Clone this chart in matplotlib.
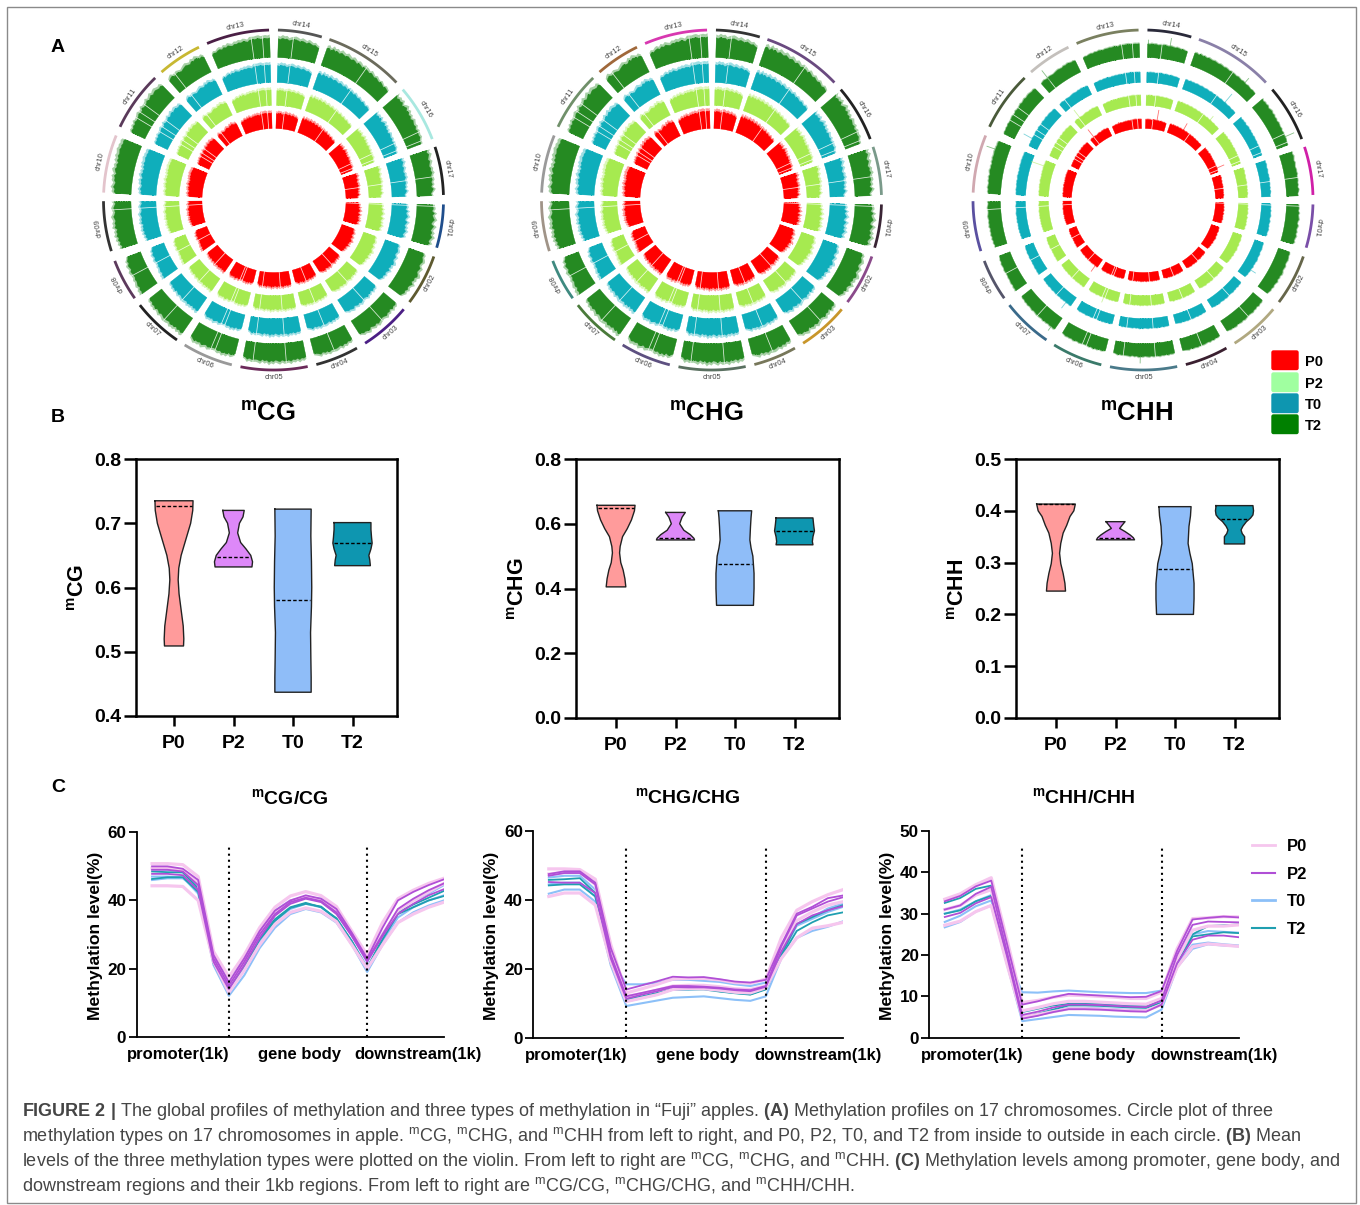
import numpy as np
import matplotlib
matplotlib.use('Agg')
import matplotlib.pyplot as plt
from matplotlib.patches import FancyBboxPatch, Rectangle
from matplotlib.lines import Line2D

plt.rcParams['font.family'] = ['Liberation Sans', 'DejaVu Sans']
plt.rcParams['mathtext.fontset'] = 'custom'
plt.rcParams['mathtext.rm'] = 'Liberation Sans'
plt.rcParams['mathtext.bf'] = 'Liberation Sans:bold'
plt.rcParams['mathtext.it'] = 'Liberation Sans:italic'

W, H = 1360, 1205
groups = ['P0', 'P2', 'T0', 'T2']

# ---- circos: chromosomes, arc ends in degrees clockwise from east
chroms = ['chr%02d' % i for i in range(1, 18)]
chr_start = [1.5, 19.4, 40, 60.6, 78.4, 104.2, 124.6, 144.7, 162.5, 182.5, 205.5, 228.8, 247, 271.5, 289.2, 319.5, 341.8]
chr_end = [16.3, 36.9, 57.4, 75.4, 101.2, 121.5, 141.8, 159, 179.6, 202.3, 225.9, 244, 268.5, 286.5, 316.3, 339, 358.3]
label_inward = [0, 1, 1, 1, 1, 1, 1, 0, 0, 0, 0, 0, 0, 0, 0, 0, 0]

# methylation along each chromosome, percent of track depth, 0 = unassembled gap
chr_profiles = [
    [62, 0, 70, 58, 82, 66, 75, 88, 72, 64, 90, 78, 69, 85, 74, 93, 80, 71, 86, 60],
    [55, 68, 62, 74, 80, 70, 66, 85, 78, 72, 88, 94, 76, 83, 70, 90, 74, 68, 79, 64, 72, 60, 52],
    [58, 72, 66, 80, 62, 76, 70, 84, 74, 68, 0, 78, 86, 72, 82, 75, 66, 84, 78, 70, 74, 62, 56],
    [60, 72, 64, 78, 70, 82, 68, 76, 80, 0, 74, 84, 72, 78, 66, 80, 70, 62, 56],
    [66, 78, 72, 84, 70, 80, 74, 88, 76, 0, 82, 72, 86, 78, 70, 84, 76, 90, 72, 80, 68, 84, 76, 72, 0, 78, 70, 82, 64, 58],
    [56, 68, 76, 64, 80, 72, 84, 70, 78, 0, 66, 0, 74, 82, 70, 78, 88, 72, 80, 76, 84, 70, 60],
    [82, 90, 76, 86, 72, 84, 78, 88, 74, 80, 0, 84, 76, 70, 82, 72, 66, 78, 68, 74, 60, 66, 54],
    [88, 78, 84, 70, 80, 74, 66, 72, 62, 0, 68, 74, 60, 66, 72, 56, 64, 50, 44],
    [70, 58, 74, 64, 80, 68, 84, 72, 78, 66, 86, 74, 80, 70, 76, 84, 72, 66, 0, 78, 70, 60, 74],
    [62, 76, 70, 84, 74, 68, 82, 78, 88, 72, 84, 92, 78, 86, 74, 90, 82, 94, 86, 90, 96, 88, 92, 84, 90, 82],
    [48, 60, 54, 66, 58, 72, 62, 0, 70, 78, 0, 66, 84, 72, 0, 76, 88, 74, 82, 92, 78, 86, 90, 82, 76, 84, 70],
    [60, 72, 80, 66, 0, 74, 68, 62, 70, 78, 84, 76, 72, 88, 80, 92, 84, 74, 82, 68],
    [52, 66, 60, 72, 78, 68, 82, 74, 86, 78, 72, 84, 80, 88, 82, 90, 86, 78, 94, 0, 92, 96, 98, 90, 0, 96, 92, 98],
    [90, 84, 96, 88, 92, 78, 86, 0, 94, 88, 80, 90, 84, 76, 88, 80, 72, 78, 66, 60],
    [84, 92, 74, 96, 82, 90, 78, 94, 86, 80, 92, 84, 76, 88, 82, 72, 84, 78, 68, 80, 0, 72, 64, 76, 68, 60, 70, 62, 56, 66, 58, 50, 60, 54, 48],
    [92, 70, 84, 76, 88, 66, 80, 90, 72, 84, 68, 76, 62, 78, 70, 64, 72, 58, 68, 0, 60, 66, 54, 0, 50],
    [84, 72, 88, 76, 66, 80, 70, 62, 74, 68, 78, 64, 0, 70, 58, 66, 52, 72, 60, 46, 54],
]

ring_cg = ['#1f4e8c', '#5e5a30', '#4b1f85', '#333333', '#6b2a5a', '#999999', '#222222', '#5c3a5c', '#333333',
           '#e3c4cc', '#5a3a5a', '#c8b832', '#4a1f45', '#555555', '#6b6b5c', '#a8e8e0', '#222222']
ring_chg = ['#3a2535', '#8a4a8a', '#c8962a', '#77775a', '#5a7060', '#5d5080', '#4a7a3a', '#3f8a80', '#a09488',
            '#9a9a9a', '#70906a', '#a0683a', '#d838b0', '#333333', '#6a4a80', '#222222', '#7a9a8a']
ring_chh = ['#7a4fa8', '#66664a', '#b0a880', '#3a2030', '#4a7a8a', '#3a7a6a', '#3a6a8a', '#55556a', '#5a50a0',
            '#d0a8b0', '#4a5a3a', '#c4c0bc', '#7a8060', '#2a2a3a', '#8a80a8', '#222222', '#d020a8']
ring_colors = [ring_cg, ring_chg, ring_chh]

circle_cx = [273.5, 711.5, 1143]
track_colors = ['#ff0000', '#a6ea50', '#0faebb', '#258a22']
track_base = [72, 95, 118, 143]
# floor and amount of the profile, px, one row per circle
track_floor = [[7, 7, 8, 9], [8, 7, 8, 9], [6, 7, 7, 9]]
track_amp = [[9, 9, 10, 11], [10, 10, 11, 12], [3.5, 3.5, 3.5, 5]]
# the single high windows in the mCHH circle: angle, radius
spikes_p0 = [(280, 91), (232, 89), (300, 88), (336.6, 88), (126, 88)]
spikes_p2 = [(232.5, 113), (199, 118), (112, 110), (310, 109)]
spikes_t0 = [(310, 138), (33, 134), (209, 136), (127, 135)]
spikes_t2 = [(272, 160), (280, 164), (311, 161), (336, 165), (199, 165), (232, 164), (126, 161), (91, 163)]
spikes_all = [spikes_p0, spikes_p2, spikes_t0, spikes_t2]

square_colors = ['#ff0000', '#a0ffa0', '#0e96b0', '#008000']

# ---- violins: y values and half widths
cg_p0_y = [.735, .72, .70, .675, .65, .63, .612, .59, .565, .54, .52, .509]
cg_p0_w = [.32, .315, .28, .20, .12, .08, .07, .085, .12, .155, .165, .16]
cg_p2_y = [.72, .71, .70, .685, .67, .66, .65, .64, .632]
cg_p2_w = [.18, .16, .10, .07, .12, .21, .29, .32, .31]
cg_t0_y = [.722, .68, .64, .60, .57, .53, .49, .46, .437]
cg_t0_w = [.305, .30, .31, .315, .31, .295, .30, .305, .305]
cg_t2_y = [.701, .69, .678, .669, .66, .65, .643, .634]
cg_t2_w = [.31, .31, .32, .33, .31, .275, .29, .30]
cg_medians = [.727, .647, .58, .669]

chg_p0_y = [.657, .64, .612, .585, .56, .53, .51, .48, .457, .43, .405]
chg_p0_w = [.32, .31, .26, .19, .11, .07, .06, .08, .12, .15, .165]
chg_p2_y = [.635, .62, .60, .58, .566, .555, .55]
chg_p2_w = [.165, .11, .07, .14, .25, .31, .32]
chg_t0_y = [.64, .62, .59, .55, .525, .50, .447, .40, .348]
chg_t0_w = [.28, .27, .26, .25, .27, .30, .32, .32, .31]
chg_t2_y = [.618, .60, .592, .578, .56, .545, .535]
chg_t2_w = [.31, .32, .325, .335, .31, .30, .31]
chg_medians = [.648, .557, .476, .578]

chh_p0_y = [.413, .40, .389, .372, .357, .337, .318, .298, .279, .26, .245]
chh_p0_w = [.325, .30, .235, .18, .12, .08, .06, .08, .12, .15, .16]
chh_p2_y = [.379, .372, .366, .36, .353, .348, .344]
chh_p2_w = [.16, .11, .07, .16, .25, .30, .32]
chh_t0_y = [.408, .39, .37, .337, .318, .298, .26, .23, .20]
chh_t0_w = [.27, .26, .235, .22, .25, .29, .32, .32, .31]
chh_t2_y = [.41, .40, .392, .386, .379, .37, .363, .356, .35, .336]
chh_t2_w = [.31, .32, .31, .27, .20, .14, .11, .13, .17, .17]
chh_medians = [.413, .347, .287, .384]

violin_colors = ['#ff9b9b', '#dd88f8', '#8fbdf8', '#0e96b0']
violin_y = [[cg_p0_y, cg_p2_y, cg_t0_y, cg_t2_y], [chg_p0_y, chg_p2_y, chg_t0_y, chg_t2_y], [chh_p0_y, chh_p2_y, chh_t0_y, chh_t2_y]]
violin_w = [[cg_p0_w, cg_p2_w, cg_t0_w, cg_t2_w], [chg_p0_w, chg_p2_w, chg_t0_w, chg_t2_w], [chh_p0_w, chh_p2_w, chh_t0_w, chh_t2_w]]
violin_medians = [cg_medians, chg_medians, chh_medians]
violin_yticks = [[0.4, 0.5, 0.6, 0.7, 0.8], [0.0, 0.2, 0.4, 0.6, 0.8], [0.0, 0.1, 0.2, 0.3, 0.4, 0.5]]

# ---- metaplots, 20 bins, three replicates per group (two for T2)
cg_p0 = [[50.8, 50.8, 50.5, 47, 25, 17.5, 24, 32, 38, 41.3, 42.6, 41.4, 38.2, 31, 24, 33.5, 40.5, 43, 45, 46.5],
         [49.5, 49.5, 49.0, 45, 23, 15.5, 22, 30, 36.5, 39.8, 41, 40, 37, 30, 22.5, 30, 37, 40, 42.5, 45],
         [44.3, 44.3, 44.1, 40, 22, 13, 19.5, 27, 33, 36.5, 37.8, 36.8, 33.8, 27, 20, 27, 33.5, 36, 38, 39.5]]
cg_p2 = [[50, 50, 49.3, 46, 24, 16, 23, 31, 37, 40, 41.5, 40.5, 37.5, 30.5, 23, 32, 40, 42.5, 44.5, 46.2],
         [47.8, 47.8, 47.4, 43, 22, 14, 21, 29, 35.5, 39, 40.5, 39.5, 36, 29.5, 22, 29.5, 36, 39, 41.5, 43.3],
         [49, 49, 48.5, 44.5, 23, 15, 22, 30, 36, 39.5, 40.8, 39.8, 36.5, 30, 22.5, 30, 37.5, 40.5, 43, 45]]
cg_t0 = [[49.2, 49, 48.5, 44, 22.5, 17.5, 23, 31, 37, 40, 41, 40.5, 37, 30, 22, 30, 37, 40, 42, 44.5],
         [47, 47, 46.8, 42, 21, 12, 18, 26, 32, 36, 37.5, 36.5, 33.5, 27, 19, 27, 33.5, 36.5, 38.5, 40],
         [46, 46.5, 46.5, 43, 22, 13.5, 20, 28, 34, 37.5, 39, 38, 34.5, 28, 20.5, 28, 35, 38, 40, 41.5]]
cg_t2 = [[48.5, 48.3, 48.2, 43.5, 22, 14, 21, 29, 34.5, 38, 39.3, 38, 34.8, 28, 20, 29, 36.5, 38.8, 40.8, 42.8],
         [46.3, 46.8, 46.8, 42.5, 21.5, 13, 20, 28.5, 34, 37.8, 39, 38.2, 34.5, 28, 20, 28.5, 36, 38, 40, 41.3]]

chg_p0 = [[49, 49, 48.8, 46, 27, 13, 14.2, 15.5, 17, 17.2, 17.2, 16.8, 16, 15.8, 17, 29, 37, 39.5, 41.5, 43],
          [47.5, 48, 48, 44.5, 25, 12, 12.8, 13.8, 15, 15.2, 15.2, 14.8, 14.2, 14, 15, 26, 34, 36.5, 38.5, 39.5],
          [41, 42, 42, 38.5, 22, 10.5, 11.5, 12.5, 14, 14.3, 14.2, 13.8, 13.2, 13, 14.5, 23, 29, 31.8, 32.5, 33.5]]
chg_p2 = [[47.5, 48.3, 48.3, 45, 26, 14, 15.2, 16.4, 17.7, 17.5, 17.6, 17, 16.3, 16, 16.8, 27, 36, 38, 40.5, 41.3],
          [45.2, 45, 45, 42, 23, 11.3, 12.5, 13.5, 14.7, 14.6, 14.6, 14.3, 13.8, 13.5, 14.8, 25, 33, 35.5, 37, 38.2],
          [47, 47.8, 47.8, 44.5, 24, 12, 13, 14, 15, 15, 14.8, 14.5, 14, 13.8, 15, 26.5, 35.5, 37.5, 39.5, 40.8]]
chg_t0 = [[46.5, 47, 47, 43, 23, 15.5, 15.5, 16, 16.8, 16.8, 16.5, 16.2, 15.5, 15, 16, 25, 33, 35, 37.5, 39],
          [41.8, 43, 43, 39.5, 21, 9.2, 10, 10.8, 11.6, 11.8, 12, 11.5, 11, 10.7, 12, 23, 29, 31, 32.2, 33.8],
          [44.5, 45, 45, 41, 22, 10.5, 11.5, 12.5, 14, 14, 14.2, 13.8, 13.2, 13, 14.5, 24, 32.5, 34.5, 36.5, 38]]
chg_t2 = [[45.8, 46, 46.3, 42, 22, 11, 12, 13, 14, 14.2, 14.3, 13.5, 13, 12.6, 14.2, 24, 33, 35, 37, 38.5],
          [44.2, 44.5, 44.5, 41, 21.5, 10.8, 11.8, 12.8, 13.9, 14, 14, 13.4, 12.9, 12.5, 14, 23.5, 31, 33.5, 35.5, 36.4]]

chh_p0 = [[33.5, 34.8, 37, 38.7, 24, 8.5, 9, 9.8, 10.3, 10.2, 10, 9.8, 9.5, 9.5, 11, 21.5, 28.8, 29, 29.3, 29.2],
          [31, 32, 34.5, 35.8, 21, 6.5, 7.3, 8.2, 8.8, 8.8, 8.6, 8.4, 8.2, 8.1, 9.5, 19, 26, 27, 27, 27.3],
          [27.2, 28.2, 30.5, 32, 18, 5, 5.6, 6.3, 7, 7, 6.9, 6.7, 6.5, 6.5, 8, 17, 22, 22.7, 22.4, 22.1]]
chh_p2 = [[33, 34.3, 36.6, 38, 23, 8, 8.8, 9.8, 10.6, 10.4, 10.2, 10, 9.8, 9.9, 11.3, 21, 28.6, 29, 29.3, 29.1],
          [29.2, 30.2, 32.5, 34, 20, 4.6, 5.3, 6.2, 6.9, 6.9, 6.8, 6.6, 6.4, 6.3, 8, 18, 23.7, 24.7, 24.7, 24.3],
          [31, 32, 34.8, 36.5, 21, 5.5, 6.3, 7.3, 8, 8, 7.9, 7.7, 7.5, 7.4, 9, 20, 27.3, 28.1, 28, 27.9]]
chh_t0 = [[30, 31, 33, 34.5, 20, 11, 10.9, 11.2, 11.4, 11.2, 11, 10.9, 10.8, 10.8, 11.4, 19, 25, 25.8, 25.6, 25.4],
          [26.7, 28, 30.5, 32, 18, 4, 4.5, 5, 5.5, 5.4, 5.3, 5.1, 5, 4.9, 6.8, 17, 21.5, 22.6, 22.3, 22.1],
          [28, 29.5, 31.8, 33.2, 19, 4.8, 5.4, 6.4, 7.2, 7.2, 7.1, 6.9, 6.7, 6.6, 8, 17.5, 22.5, 23, 22.6, 22.3]]
chh_t2 = [[32.6, 33.8, 36, 36.8, 22, 6.2, 7, 7.8, 8.2, 8.2, 8.2, 8, 7.8, 7.7, 9.2, 19.5, 25, 27, 27.2, 27.4],
          [30, 30.8, 33, 34.3, 20, 5, 5.8, 6.8, 7.8, 7.8, 7.7, 7.5, 7.3, 7.2, 8.5, 18, 24.5, 25, 25.5, 25.3]]

meta_lines = [[cg_t0, cg_t2, cg_p0, cg_p2], [chg_t0, chg_t2, chg_p0, chg_p2], [chh_t0, chh_t2, chh_p0, chh_p2]]
meta_colors = ['#8cc0f8', '#1f9fb0', '#f6c6ee', '#b04fd6']
meta_widths = [1.5, 1.3, 2.3, 1.3]
meta_yticks = [[0, 20, 40, 60], [0, 20, 40, 60], [0, 10, 20, 30, 40, 50]]
meta_xlabels = ['promoter(1k)', 'gene body', 'downstream(1k)']
meta_xlabel_pos = [[1.7, 9.6, 17.3], [1.8, 9.6, 17.4], [1.8, 9.6, 17.4]]

caption = [
    r'$\mathbf{FIGURE\ 2\ |}$ The global profiles of methylation and three types of methylation in “Fuji” apples. $\mathbf{(A)}$ Methylation profiles on 17 chromosomes. Circle plot of three',
    r'methylation types on 17 chromosomes in apple. $^{\mathrm{m}}$CG, $^{\mathrm{m}}$CHG, and $^{\mathrm{m}}$CHH from left to right, and P0, P2, T0, and T2 from inside to outside in each circle. $\mathbf{(B)}$ Mean',
    r'levels of the three methylation types were plotted on the violin. From left to right are $^{\mathrm{m}}$CG, $^{\mathrm{m}}$CHG, and $^{\mathrm{m}}$CHH. $\mathbf{(C)}$ Methylation levels among promoter, gene body, and',
    r'downstream regions and their 1kb regions. From left to right are $^{\mathrm{m}}$CG/CG, $^{\mathrm{m}}$CHG/CHG, and $^{\mathrm{m}}$CHH/CHH.',
]

fig = plt.figure(figsize=(W / 100, H / 100), dpi=100)


def px_axes(left, top, right, bottom, **kw):
    return fig.add_axes([left / W, 1 - bottom / H, (right - left) / W, (bottom - top) / H], **kw)


# overlay in pixel coordinates for the frame and the free text
page = px_axes(0, 0, W, H)
page.set_xlim(0, W)
page.set_ylim(H, 0)
page.axis('off')
page.add_patch(Rectangle((7, 7), 1349, 1196, fill=False, ec='#8a8a8a', lw=1))
for letter, y in zip('ABC', [47, 417, 788]):
    page.text(58, y, letter, fontsize=14, fontweight='bold', ha='center', va='center')
for name, x in zip(['CG', 'CHG', 'CHH'], [268, 706, 1137]):
    page.text(x, 414, r'$^{\mathbf{m}}$' + name, fontsize=18.5, fontweight='bold', ha='center', va='center')
for name, x, y in zip(['CG', 'CHG', 'CHH'], [79, 519, 959], [587, 589, 589]):
    page.text(x, y, r'$^{\mathbf{m}}$' + name, fontsize=15.5, fontweight='bold', rotation=90, ha='center', va='center')
for name, x, y in zip(['CG/CG', 'CHG/CHG', 'CHH/CHH'], [290, 688, 1084], [798, 797, 797]):
    page.text(x, y, r'$^{\mathbf{m}}$' + name, fontsize=14, fontweight='bold', ha='center', va='center')
for x in [95.5, 491.5, 887.5]:
    page.text(x, 936, 'Methylation level(%)', fontsize=12.6, fontweight='bold', rotation=90, ha='center', va='center')
for line, y in zip(caption, [1111, 1136, 1161, 1186]):
    page.text(22, y, line, fontsize=12.95, color='#454545', ha='left', va='center')

# square legend of the circos rings
for i, (name, top) in enumerate(zip(groups, [350, 372, 393, 414])):
    page.add_patch(FancyBboxPatch((1272, top + 1), 26, 18.5, boxstyle='round,pad=0,rounding_size=1.5',
                                  fc=square_colors[i], ec=square_colors[i], lw=1))
    page.text(1305, top + 12, name, fontsize=10.5, fontweight='bold', ha='left', va='center')

# ---- A: circos rings
R = 190
for c, cx in enumerate(circle_cx):
    ax = px_axes(cx - R, 200 - R, cx + R, 200 + R, projection='polar')
    ax.set_theta_direction(-1)
    ax.set_theta_offset(0)
    ax.set_rlim(0, R)
    ax.axis('off')
    for i, name in enumerate(chroms):
        theta = np.radians(np.linspace(chr_start[i], chr_end[i], len(chr_profiles[i])))
        prof = np.array(chr_profiles[i], dtype=float)
        keep = prof > 0
        for t in range(4):
            base = track_base[t]
            top = base + track_floor[c][t] + track_amp[c][t] * prof[keep] / 100
            fringe = base + track_floor[c][t] + 1.3 * track_amp[c][t] * prof[keep] / 100
            # thin pale tips above the solid body, as the windows fade out
            ax.fill_between(theta[keep], base, fringe, color=track_colors[t], lw=0, alpha=0.4)
            ax.fill_between(theta[keep], base, top, color=track_colors[t], lw=0.2)
            for g in theta[~keep]:
                ax.plot([g, g], [base - 1, top.max() + 1], color='white', lw=0.55, alpha=0.85)
        arc = np.radians(np.linspace(chr_start[i], chr_end[i], 40))
        ax.plot(arc, np.full(40, 170), color=ring_colors[c][i], lw=2, solid_capstyle='butt')
        mid = (chr_start[i] + chr_end[i]) / 2
        rot = 90 - mid if label_inward[i] else -mid - 90
        ax.text(np.radians(mid), 177, name, fontsize=5.4, color='#444444', rotation=rot,
                rotation_mode='anchor', ha='center', va='center')
    if c == 2:
        for t in range(4):
            for ang, r in spikes_all[t]:
                ax.plot(np.radians([ang, ang]), [track_base[t] + 8, r], color=track_colors[t], lw=0.6, alpha=0.55)

# ---- B: violins
violin_boxes = [(136, 459, 397, 716), (576, 459, 839, 718), (1016, 459, 1279, 718)]
violin_left = [174, 616, 1056]
violin_step = 59.5
for p, box in enumerate(violin_boxes):
    ax = px_axes(*box)
    for i in range(4):
        ys = np.array(violin_y[p][i])
        ws = np.array(violin_w[p][i])
        ax.fill_betweenx(ys, i - ws, i + ws, facecolor=violin_colors[i], edgecolor='none', zorder=2)
        ax.plot(np.r_[i - ws, (i + ws)[::-1], (i - ws)[0]], np.r_[ys, ys[::-1], ys[0]], color='#222222', lw=1.0, zorder=3)
        med = violin_medians[p][i]
        hw = np.interp(med, ys[::-1], ws[::-1])
        ax.plot([i - hw + 0.02, i + hw - 0.02], [med, med], color='black', lw=1.0, ls=(0, (2.5, 1.5)), zorder=4)
    ax.set_xlim((box[0] - violin_left[p]) / violin_step, (box[2] - violin_left[p]) / violin_step)
    ax.set_ylim(violin_yticks[p][0], violin_yticks[p][-1])
    ax.set_xticks(range(4))
    ax.set_xticklabels(groups, fontsize=14, fontweight='bold')
    ax.set_yticks(violin_yticks[p])
    ax.set_yticklabels(['%.1f' % v for v in violin_yticks[p]], fontsize=14, fontweight='bold')
    ax.tick_params(axis='y', width=1.8, length=8.5, pad=2)
    ax.tick_params(axis='x', width=1.8, length=7, pad=6.5)
    for s in ax.spines.values():
        s.set_linewidth(1.8)

# ---- C: metaplots
meta_boxes = [(136.7, 832.3, 444, 1036.7), (533.3, 831, 843.3, 1037.7), (929.3, 831, 1239, 1037.7)]
dot_tops = [55.7, 55.9, 46.6]
for p, box in enumerate(meta_boxes):
    ax = px_axes(*box)
    for g in range(4):
        for row in meta_lines[p][g]:
            ax.plot(range(20), row, color=meta_colors[g], lw=meta_widths[g], solid_joinstyle='round')
    for x in [5, 14]:
        ax.plot([x, x], [0, dot_tops[p]], color='black', lw=1.5, ls=(0, (1, 1.9)), zorder=5)
    ax.set_xlim(-1, 19)
    ax.set_ylim(meta_yticks[p][0], meta_yticks[p][-1])
    ax.set_xticks(meta_xlabel_pos[p])
    ax.set_xticklabels(meta_xlabels, fontsize=12, fontweight='bold')
    ax.set_yticks(meta_yticks[p])
    ax.set_yticklabels(meta_yticks[p], fontsize=12.3, fontweight='bold')
    ax.tick_params(axis='x', length=0, pad=7.5)
    ax.tick_params(axis='y', width=1.3, length=6, pad=1.5)
    ax.spines['top'].set_visible(False)
    ax.spines['right'].set_visible(False)
    ax.spines['left'].set_linewidth(1.3)
    ax.spines['bottom'].set_linewidth(1.3)

handles = [Line2D([], [], color=col, lw=lw) for col, lw in zip(['#f6c6ee', '#b04fd6', '#8cc0f8', '#1f9fb0'], [2, 1.5, 2, 1.5])]
fig.legend(handles, groups, loc='upper left', bbox_to_anchor=(1237 / W, 1 - 824 / H), frameon=False,
           handlelength=1.35, handletextpad=0.75, labelspacing=0.76, borderpad=0.4,
           prop={'size': 12, 'weight': 'bold'})

fig.savefig('out.png', dpi=100)
